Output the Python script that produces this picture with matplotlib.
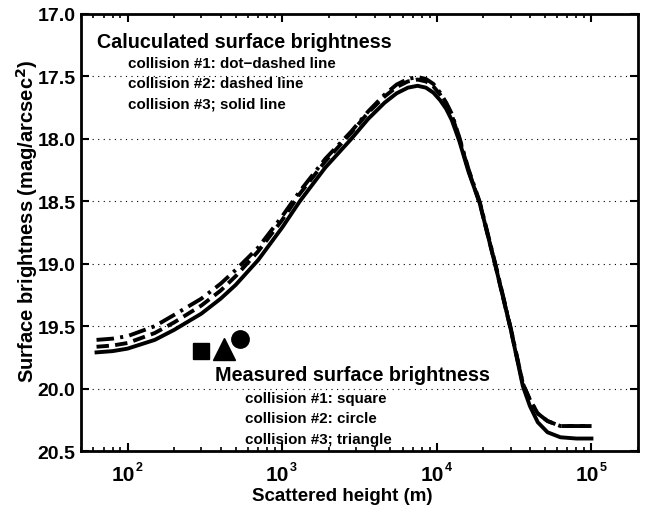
import matplotlib
matplotlib.use("Agg")
import matplotlib.pyplot as plt
from matplotlib.ticker import LogLocator, FixedLocator, NullFormatter
from matplotlib.transforms import offset_copy

plt.rcParams['font.family'] = ['Liberation Sans', 'DejaVu Sans']
plt.rcParams['font.weight'] = 'bold'
plt.rcParams['mathtext.default'] = 'bf'

height = [63, 80, 100, 150, 200, 300, 400, 500, 700, 1000, 1300, 1900, 2800, 3600,
          4600, 5500, 6500, 7500, 8500, 9500, 10500, 11500, 12500, 14000, 16000,
          19000, 24000, 30000, 36000, 40000, 45000, 52000, 63000, 80000, 100000]
sb_collision1 = [19.61, 19.60, 19.58, 19.50, 19.41, 19.28, 19.16, 19.05, 18.87, 18.62,
                 18.42, 18.16, 17.94, 17.78, 17.645, 17.565, 17.52, 17.505, 17.52,
                 17.56, 17.63, 17.71, 17.80, 17.99, 18.24, 18.51, 19.01, 19.51, 19.96,
                 20.09, 20.20, 20.26, 20.30, 20.30, 20.30]
sb_collision2 = [19.665, 19.655, 19.635, 19.555, 19.47, 19.335, 19.215, 19.10, 18.90,
                 18.65, 18.44, 18.18, 17.95, 17.79, 17.66, 17.585, 17.54, 17.525,
                 17.54, 17.58, 17.645, 17.72, 17.81, 18.00, 18.25, 18.52, 19.02,
                 19.52, 19.96, 20.09, 20.20, 20.26, 20.30, 20.30, 20.30]
sb_collision3 = [19.71, 19.70, 19.68, 19.61, 19.53, 19.40, 19.28, 19.17, 18.97, 18.71,
                 18.50, 18.23, 18.00, 17.84, 17.71, 17.635, 17.59, 17.575, 17.59,
                 17.63, 17.69, 17.76, 17.85, 18.02, 18.26, 18.52, 19.02, 19.52, 19.98,
                 20.14, 20.27, 20.35, 20.39, 20.40, 20.40]

meas_x = [299, 533, 421]
meas_y = [19.70, 19.60, 19.68]
meas_markers = ['s', 'o', '^']
meas_sizes = [11, 12.5, 15.5]

yticks = [17.0, 17.5, 18.0, 18.5, 19.0, 19.5, 20.0, 20.5]
xticks = [1e2, 1e3, 1e4, 1e5]
xtick_exponents = ['2', '3', '4', '5']

fig = plt.figure(figsize=(6.46, 5.10), dpi=100)
ax = fig.add_axes([0.1254, 0.1137, 0.8622, 0.8569])

ax.plot(height, sb_collision1, color='black', lw=2.8, linestyle=(0, (4.5, 1.6, 0.8, 1.6)))
ax.plot(height, sb_collision2, color='black', lw=2.8, linestyle=(0, (3.2, 1.6)))
ax.plot(height, sb_collision3, color='black', lw=2.8, linestyle='-')

for mx, my, mk, ms in zip(meas_x, meas_y, meas_markers, meas_sizes):
    ax.plot([mx], [my], marker=mk, color='black', markersize=ms, linestyle='none')

ax.set_xscale('log')
ax.set_xlim(50, 2e5)
ax.set_ylim(20.5, 17.0)
ax.yaxis.set_major_locator(FixedLocator(yticks))
ax.set_yticklabels([f"{v:.1f}" for v in yticks])
ax.xaxis.set_major_locator(FixedLocator(xticks))
ax.xaxis.set_major_formatter(NullFormatter())
ax.xaxis.set_minor_locator(LogLocator(base=10, subs=range(2, 10), numticks=20))
ax.xaxis.set_minor_formatter(NullFormatter())

# x tick labels: large "10" with small exponent
xtr = ax.get_xaxis_transform()
for xv, ex in zip(xticks, xtick_exponents):
    base_tr = offset_copy(xtr, fig=fig, x=-3.3, y=-10, units='points')
    ax.text(xv, 0, '10', transform=base_tr, fontsize=15, fontweight='bold',
            ha='center', va='top', clip_on=False)
    exp_tr = offset_copy(xtr, fig=fig, x=5.8, y=-7.2, units='points')
    ax.text(xv, 0, ex, transform=exp_tr, fontsize=9, fontweight='bold',
            ha='left', va='top', clip_on=False)

for y in yticks[1:-1]:
    ax.axhline(y, color='black', lw=0.8, linestyle=(0, (1, 4)), zorder=0)

ax.tick_params(axis='both', which='both', direction='in', top=True, right=True)
ax.tick_params(axis='both', which='major', length=6, width=1.5, labelsize=14)
ax.tick_params(axis='y', which='major', pad=4)
ax.tick_params(axis='x', which='minor', length=3, width=1.2)
for s in ax.spines.values():
    s.set_linewidth(2)

ax.set_xlabel('Scattered height (m)', fontsize=13.5, fontweight='bold')
ax.xaxis.set_label_coords(0.4686, -0.082)
ax.set_ylabel('Surface brightness (mag/arcsec$^2$)', fontsize=14.5, fontweight='bold')
ax.yaxis.set_label_coords(-0.074, 0.528)

ax.text(0.028, 0.937, 'Caluculated surface brightness', transform=ax.transAxes,
        fontsize=14.2, fontweight='bold', va='center')
calc_lines = ['collision #1: dot\u2212dashed line', 'collision #2: dashed line',
              'collision #3; solid line']
for i, t in enumerate(calc_lines):
    ax.text(0.084, 0.889 - i * 0.047, t, transform=ax.transAxes,
            fontsize=10.9, fontweight='bold', va='center')

ax.text(0.241, 0.175, 'Measured surface brightness', transform=ax.transAxes,
        fontsize=14.2, fontweight='bold', va='center')
meas_lines = ['collision #1: square', 'collision #2: circle', 'collision #3; triangle']
for i, t in enumerate(meas_lines):
    ax.text(0.294, 0.122 - i * 0.047, t, transform=ax.transAxes,
            fontsize=10.9, fontweight='bold', va='center')

fig.savefig('out.png', dpi=100)
